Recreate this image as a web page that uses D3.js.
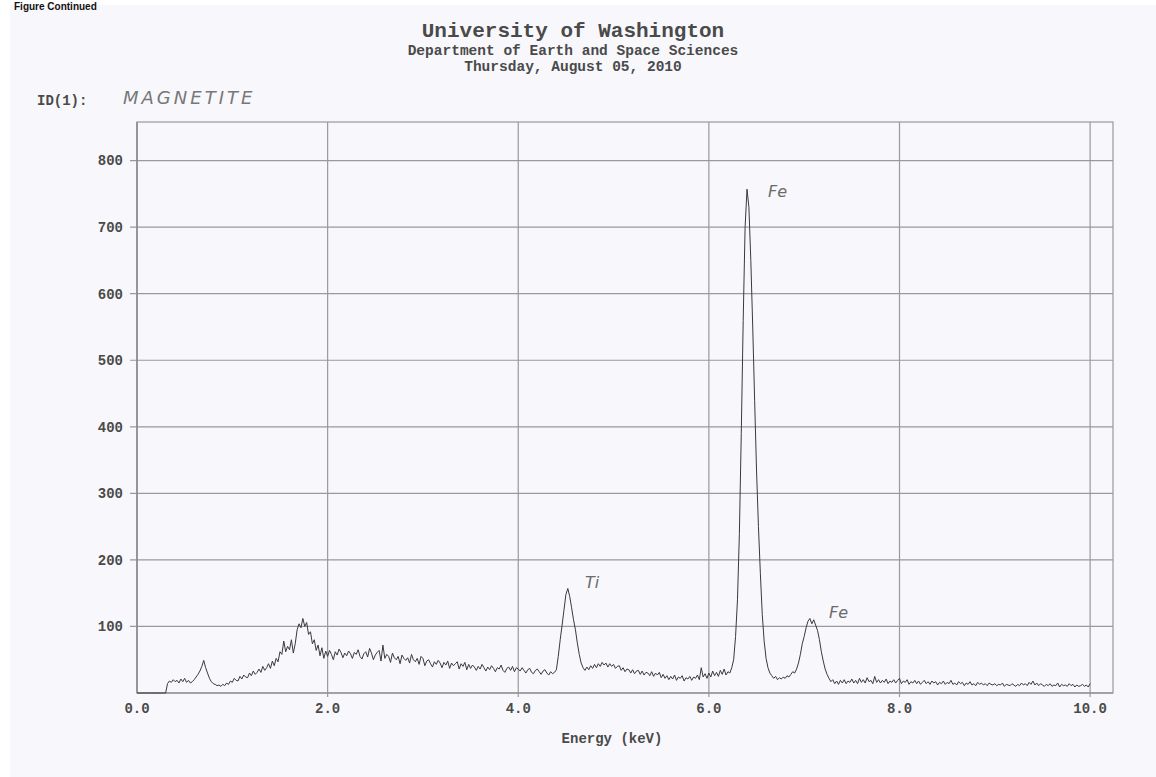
<!DOCTYPE html>
<html>
<head>
<meta charset="utf-8">
<script src="https://cdn.jsdelivr.net/npm/d3@7"></script>
<style>
  html, body { margin: 0; padding: 0; background: #ffffff; }
  svg { display: block; }
</style>
</head>
<body>
<svg id="chart" width="1156" height="777"></svg>
<script>
// ---- data ----
const titleLines = ["University of Washington", "Department of Earth and Space Sciences", "Thursday, August 05, 2010"];
const captionText = "Figure Continued";
const sampleLabel = "ID(1):";
const sampleName = "MAGNETITE";
const xTicks = [0, 2, 4, 6, 8, 10];
const yTicks = [100, 200, 300, 400, 500, 600, 700, 800];
const xLabel = "Energy (keV)";
const energyStart = 0.0;   // keV of first channel
const energyStep = 0.02;   // keV per channel
// counts per channel, 0.00 .. 10.00 keV (rows of 0.5 keV)
const counts = [
  0,0,0,0,0,0,0,0,0,0,0,0,0,0,0,0,14,18,16,20,17,19,15,21,17,
  22,16,19,15,17,20,24,28,33,40,49,38,30,22,17,14,13,11,12,10,13,11,15,13,18,
  16,22,19,18,25,21,27,24,23,30,26,33,28,31,36,31,40,34,38,44,37,48,41,52,47,
  62,58,78,62,70,65,80,60,74,95,104,98,112,100,106,88,92,74,80,64,72,56,68,52,63,
  55,64,58,50,62,57,66,61,53,60,56,63,59,52,61,58,65,55,51,59,62,54,67,60,50,
  57,61,64,48,72,52,58,55,46,60,53,50,55,44,57,52,49,53,45,58,50,47,52,43,55,
  52,41,48,50,44,39,47,43,49,45,38,46,42,48,37,45,41,44,47,36,44,40,46,35,43,
  37,42,39,34,40,36,43,38,33,39,35,41,37,32,38,36,42,34,31,37,39,34,40,32,38,
  36,33,38,34,30,35,37,31,29,34,36,32,28,33,35,30,27,32,29,31,35,55,80,102,125,
  148,157,145,128,110,95,75,58,45,38,34,39,35,41,37,43,38,44,40,46,42,45,39,44,40,
  43,37,40,41,34,38,32,36,35,30,35,29,33,34,28,33,27,31,30,26,32,25,30,27,31,
  23,28,22,26,20,25,21,27,19,24,22,26,18,23,21,25,19,24,22,27,20,38,24,29,22,
  30,24,33,26,31,25,34,28,36,27,32,30,38,50,85,140,240,390,560,700,757,730,650,550,440,
  335,250,180,118,78,52,38,30,26,22,25,20,23,21,24,22,26,24,28,32,30,36,45,58,74,
  85,98,108,112,104,110,102,94,80,62,48,36,28,22,17,20,14,18,13,19,15,20,14,18,16,
  21,15,19,14,22,16,20,15,23,17,19,14,25,16,20,15,19,16,21,14,18,16,20,15,19,
  22,14,18,16,20,13,17,15,19,14,18,13,16,19,14,17,13,18,15,17,12,16,14,18,13,
  16,14,19,13,15,12,17,14,16,11,15,13,17,12,14,11,16,13,15,12,14,11,15,13,12,
  14,11,13,12,15,10,13,12,11,14,12,10,13,11,15,12,14,11,16,13,18,12,15,11,14,
  12,10,13,11,14,10,12,11,15,9,13,11,12,10,14,11,13,9,12,10,11,13,10,12,9,
  14
];
const peakLabels = [
  { text: "Fe", energy: 6.62, value: 745 },
  { text: "Ti", energy: 4.70, value: 158 },
  { text: "Fe", energy: 7.26, value: 112 }
];

// ---- layout ----
const svg = d3.select("#chart");
const W = 1156, H = 777;
const margin = { left: 137, right: 43, top: 122, bottom: 84 };
const x = d3.scaleLinear().domain([0, 10.24]).range([margin.left, W - margin.right]);
const y = d3.scaleLinear().domain([0, 858]).range([H - margin.bottom, margin.top]);

const mono = "'Liberation Mono', 'Courier New', monospace";
const textColor = "#4a4a4a";
const gridColor = "#9a9a9a";

// page background (scanned sheet)
svg.append("rect").attr("x", 0).attr("y", 0).attr("width", W).attr("height", H).attr("fill", "#ffffff");
svg.append("rect").attr("x", 10).attr("y", 5).attr("width", W - 10).attr("height", H - 5).attr("fill", "#f8f8fc");

// caption at top (cut off in the scan)
svg.append("text").attr("x", 14).attr("y", 10)
  .attr("font-family", "'Liberation Sans', Arial, sans-serif").attr("font-weight", "bold")
  .attr("font-size", 10).attr("fill", "#111").text(captionText);

// titles
const titleSizes = [21, 14.5, 14.5];
const titleY = [37, 55, 71];
titleLines.forEach((t, i) => {
  svg.append("text").attr("x", 573).attr("y", titleY[i]).attr("text-anchor", "middle")
    .attr("font-family", mono).attr("font-weight", "bold").attr("font-size", titleSizes[i])
    .attr("fill", textColor).text(t);
});

// sample id
svg.append("text").attr("x", 37).attr("y", 105).attr("font-family", mono).attr("font-weight", "bold")
  .attr("font-size", 14).attr("fill", textColor).text(sampleLabel);
svg.append("text").attr("x", 123).attr("y", 104)
  .attr("font-family", "'DejaVu Sans', sans-serif").attr("font-size", 18).attr("font-style", "italic")
  .attr("letter-spacing", 3).attr("fill", "#777").attr("font-weight", "300").text(sampleName);

// grid
const g = svg.append("g");
g.selectAll("line.hg").data(yTicks).join("line").attr("class", "hg")
  .attr("x1", x(0) - 7).attr("x2", x.range()[1]).attr("y1", d => y(d)).attr("y2", d => y(d))
  .attr("stroke", gridColor).attr("stroke-width", 1.2);
g.selectAll("line.vg").data(xTicks.filter(d => d > 0)).join("line").attr("class", "vg")
  .attr("y1", y.range()[1]).attr("y2", y(0) + 4).attr("x1", d => x(d)).attr("x2", d => x(d))
  .attr("stroke", gridColor).attr("stroke-width", 1.2);

// frame
svg.append("rect").attr("x", x.range()[0]).attr("y", y.range()[1])
  .attr("width", x.range()[1] - x.range()[0]).attr("height", y.range()[0] - y.range()[1])
  .attr("fill", "none").attr("stroke", "#999").attr("stroke-width", 1.2);
svg.append("line").attr("x1", x(0)).attr("x2", x(0)).attr("y1", y.range()[1]).attr("y2", y(0))
  .attr("stroke", "#888").attr("stroke-width", 1.5);
svg.append("line").attr("x1", x(0)).attr("x2", x.range()[1]).attr("y1", y(0)).attr("y2", y(0))
  .attr("stroke", "#999").attr("stroke-width", 1.5);

// tick labels
svg.selectAll("text.yt").data(yTicks).join("text").attr("class", "yt")
  .attr("x", x(0) - 14).attr("y", d => y(d)).attr("dy", "0.35em").attr("text-anchor", "end")
  .attr("font-family", mono).attr("font-weight", "bold").attr("font-size", 14).attr("fill", textColor)
  .text(d => d);
svg.selectAll("text.xt").data(xTicks).join("text").attr("class", "xt")
  .attr("x", d => x(d)).attr("y", y(0) + 20).attr("text-anchor", "middle")
  .attr("font-family", mono).attr("font-weight", "bold").attr("font-size", 14).attr("fill", textColor)
  .text(d => d3.format(".1f")(d));
svg.append("text").attr("x", 612).attr("y", 743).attr("text-anchor", "middle")
  .attr("font-family", mono).attr("font-weight", "bold").attr("font-size", 14).attr("fill", textColor)
  .text(xLabel);

// spectrum
const pts = counts.map((c, i) => [energyStart + i * energyStep, c]);
const line = d3.line().x(d => x(d[0])).y(d => y(d[1]));
svg.append("path").attr("d", line(pts)).attr("fill", "none")
  .attr("stroke", "#3a3a3a").attr("stroke-width", 1).attr("stroke-linejoin", "round");

// handwritten peak labels
svg.selectAll("text.pk").data(peakLabels).join("text").attr("class", "pk")
  .attr("x", d => x(d.energy)).attr("y", d => y(d.value))
  .attr("font-family", "'DejaVu Sans', sans-serif").attr("font-style", "italic").attr("font-weight", "300")
  .attr("font-size", 16).attr("fill", "#6a6a6a").text(d => d.text);
</script>
</body>
</html>
